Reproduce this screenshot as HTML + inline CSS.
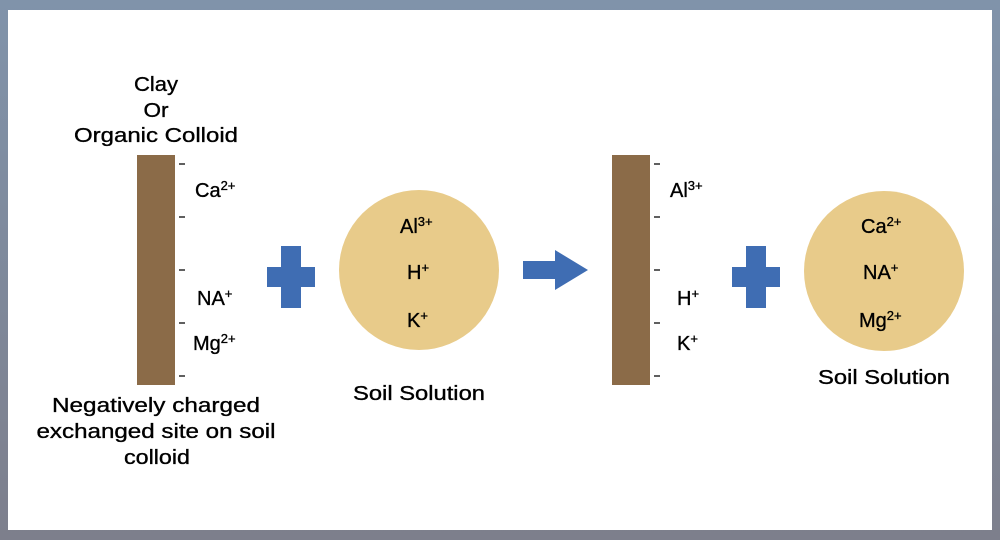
<!DOCTYPE html>
<html><head><style>
body{margin:0;width:1000px;height:540px;overflow:hidden;background:linear-gradient(#8093aa,#7d7f8c);font-family:"Liberation Sans",Arial,sans-serif;}
.w{position:absolute;left:8px;top:10px;width:984px;height:520px;background:#fff;}
svg{position:absolute;left:0;top:0}
text{stroke:#000;stroke-width:0.35}
</style></head><body>
<div class="w"></div>
<svg width="1000" height="540" font-family="Liberation Sans, Arial, sans-serif" font-size="20" fill="#000">
<g text-anchor="middle" lengthAdjust="spacingAndGlyphs">
<text x="156" y="91" textLength="44" lengthAdjust="spacingAndGlyphs">Clay</text>
<text x="156" y="117" textLength="25" lengthAdjust="spacingAndGlyphs">Or</text>
<text x="156" y="142" textLength="164" lengthAdjust="spacingAndGlyphs">Organic Colloid</text>
<text x="156" y="412" textLength="208" lengthAdjust="spacingAndGlyphs">Negatively charged</text>
<text x="156" y="438" textLength="239" lengthAdjust="spacingAndGlyphs">exchanged site on soil</text>
<text x="157" y="464" textLength="66" lengthAdjust="spacingAndGlyphs">colloid</text>
<text x="419" y="400" textLength="132" lengthAdjust="spacingAndGlyphs">Soil Solution</text>
<text x="884" y="384" textLength="132" lengthAdjust="spacingAndGlyphs">Soil Solution</text>
</g>
<rect x="137" y="155" width="38" height="230" fill="#8b6b48"/>
<rect x="612" y="155" width="38" height="230" fill="#8b6b48"/>
<g stroke="#000" stroke-width="1.3">
<path d="M179 164h6M179 217h6M179 270h6M179 323h6M179 376h6"/>
<path d="M654 164h6M654 217h6M654 270h6M654 323h6M654 376h6"/>
</g>
<text x="195" y="197">Ca<tspan font-size="13" dy="-7">2+</tspan></text>
<text x="197" y="305">NA<tspan font-size="13" dy="-7">+</tspan></text>
<text x="193" y="350">Mg<tspan font-size="13" dy="-7">2+</tspan></text>
<text x="670" y="197">Al<tspan font-size="13" dy="-7">3+</tspan></text>
<text x="677" y="305">H<tspan font-size="13" dy="-7">+</tspan></text>
<text x="677" y="350">K<tspan font-size="13" dy="-7">+</tspan></text>
<path fill="#3f6db3" d="M281 246h20v21h14v20h-14v21h-20v-21h-14v-20h14z"/>
<path fill="#3f6db3" d="M746 246h20v21h14v20h-14v21h-20v-21h-14v-20h14z"/>
<path fill="#3f6db3" d="M523 261h32v-11l33 20-33 20v-11h-32z"/>
<circle cx="419" cy="270" r="80" fill="#e8cb8a"/>
<circle cx="884" cy="271" r="80" fill="#e8cb8a"/>
<text x="400" y="233">Al<tspan font-size="13" dy="-7">3+</tspan></text>
<text x="407" y="279">H<tspan font-size="13" dy="-7">+</tspan></text>
<text x="407" y="327">K<tspan font-size="13" dy="-7">+</tspan></text>
<text x="861" y="233">Ca<tspan font-size="13" dy="-7">2+</tspan></text>
<text x="863" y="279">NA<tspan font-size="13" dy="-7">+</tspan></text>
<text x="859" y="327">Mg<tspan font-size="13" dy="-7">2+</tspan></text>
</svg>
</body></html>
